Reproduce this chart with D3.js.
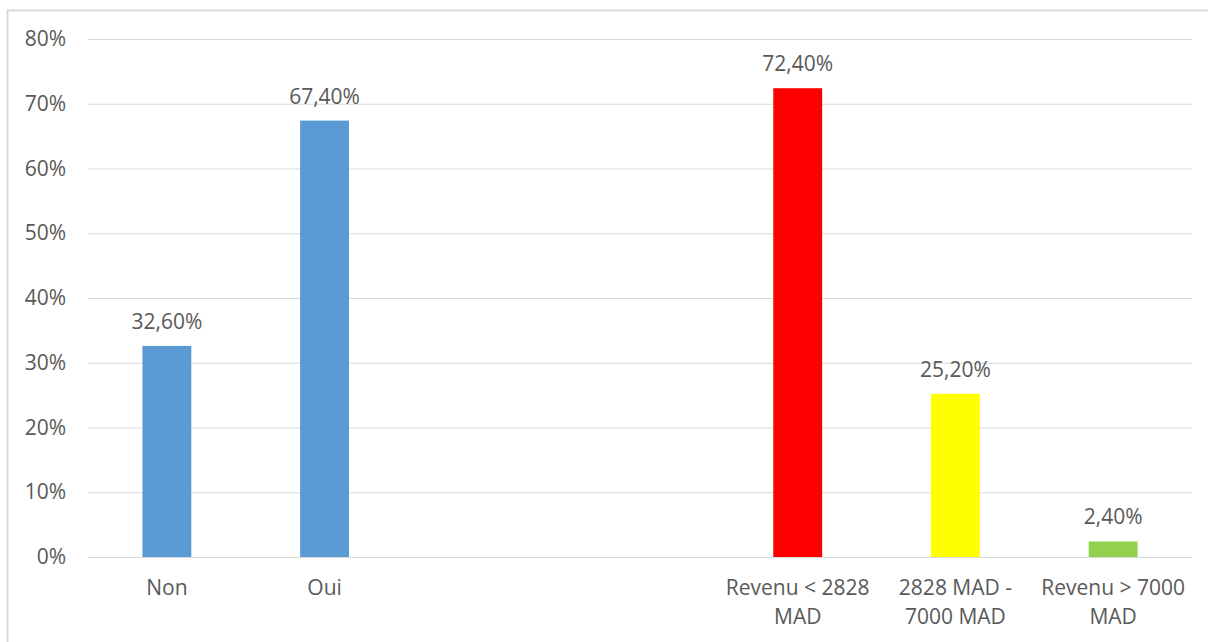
<!DOCTYPE html>
<html>
<head>
<meta charset="utf-8">
<script src="https://cdn.jsdelivr.net/npm/d3@7"></script>
<style>
  html, body { margin: 0; padding: 0; background: #fff; }
  svg { display: block; font-family: "Open Sans", "Noto Sans", sans-serif; }
</style>
</head>
<body>
<svg id="chart" width="1208" height="642"></svg>
<script>
// Categories (two blank slots separate the yes/no group from the income group)
const categories = ["Non", "Oui", "", "", "Revenu < 2828\nMAD", "2828 MAD -\n7000 MAD", "Revenu > 7000\nMAD"];
const values = [0.326, 0.674, null, null, 0.724, 0.252, 0.024];
const barColors = ["#5B9BD5", "#5B9BD5", null, null, "#FF0000", "#FFFF00", "#92D050"];
const yTicks = [0, 0.1, 0.2, 0.3, 0.4, 0.5, 0.6, 0.7, 0.8];

const W = 1208, H = 642;
const margin = { left: 88, right: 16, top: 39, bottom: 85 };
const svg = d3.select("#chart");
const textColor = "#595959";
const fontSize = 21;

// Outer chart frame
svg.append("rect")
  .attr("x", 7.5).attr("y", 10.5)
  .attr("width", W + 20).attr("height", H + 20)
  .attr("fill", "none").attr("stroke", "#D9D9D9").attr("stroke-width", 2);

const x = d3.scaleBand()
  .domain(categories.map((d, i) => i))
  .range([margin.left, W - margin.right])
  .paddingInner(0.69)
  .paddingOuter(0.345);

const y = d3.scaleLinear()
  .domain([0, 0.8])
  .range([H - margin.bottom, margin.top]);

const frLocale = d3.formatLocale({ decimal: ",", thousands: " ", grouping: [3], currency: ["", " €"] });
const tickFmt = frLocale.format(".0%");
const valFmt = frLocale.format(".2%");

// Gridlines + y-axis labels
const yAxis = d3.axisLeft(y)
  .tickValues(yTicks)
  .tickFormat(tickFmt)
  .tickSize(-(W - margin.right - margin.left))
  .tickPadding(22);

const gy = svg.append("g")
  .attr("transform", `translate(${margin.left},0)`)
  .call(yAxis);
gy.select(".domain").remove();
gy.selectAll(".tick line").attr("stroke", "#D9D9D9").attr("stroke-width", 1);
gy.selectAll(".tick text")
  .attr("fill", textColor)
  .attr("font-size", fontSize)
  .attr("font-family", "'Open Sans', sans-serif");

// Bars
const data = categories.map((c, i) => ({ i, c, v: values[i], color: barColors[i] }))
  .filter(d => d.v !== null);

svg.append("g").selectAll("rect")
  .data(data)
  .join("rect")
  .attr("x", d => x(d.i))
  .attr("width", x.bandwidth())
  .attr("y", d => y(d.v))
  .attr("height", d => y(0) - y(d.v))
  .attr("fill", d => d.color);

// Value labels
svg.append("g").selectAll("text")
  .data(data)
  .join("text")
  .attr("x", d => x(d.i) + x.bandwidth() / 2)
  .attr("y", d => y(d.v) - 17)
  .attr("text-anchor", "middle")
  .attr("fill", textColor)
  .attr("font-size", fontSize)
  .text(d => valFmt(d.v));

// Category labels (multi-line)
const catG = svg.append("g").selectAll("text")
  .data(categories.map((c, i) => ({ i, c })).filter(d => d.c !== ""))
  .join("text")
  .attr("x", d => x(d.i) + x.bandwidth() / 2)
  .attr("y", y(0) + 38)
  .attr("text-anchor", "middle")
  .attr("fill", textColor)
  .attr("font-size", fontSize);

catG.each(function (d) {
  const lines = d.c.split("\n");
  const t = d3.select(this);
  lines.forEach((ln, k) => {
    t.append("tspan")
      .attr("x", x(d.i) + x.bandwidth() / 2)
      .attr("dy", k === 0 ? 0 : 29)
      .text(ln);
  });
});
</script>
</body>
</html>
